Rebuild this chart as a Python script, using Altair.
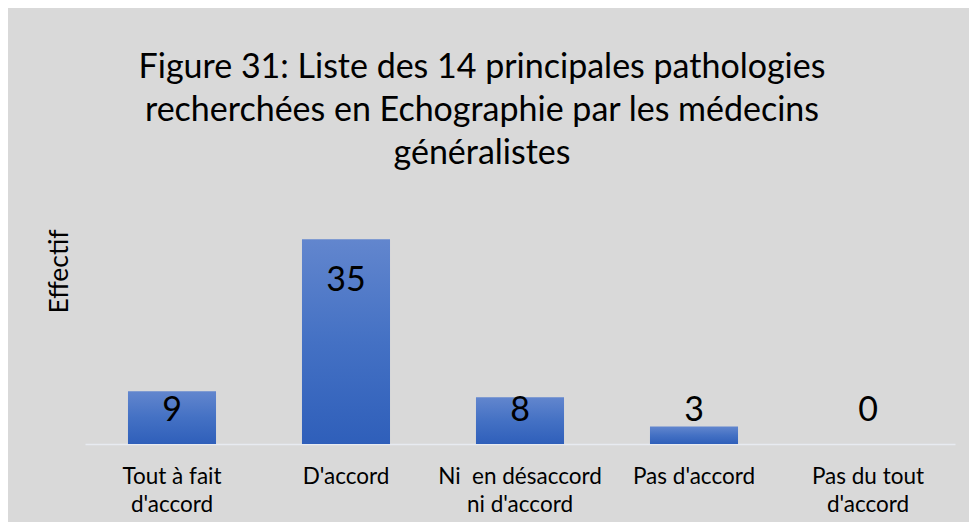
import altair as alt
import pandas as pd

categories = ["Tout à fait|d'accord", "D'accord", "Ni \u00a0en désaccord|ni d'accord",
              "Pas d'accord", "Pas du tout|d'accord"]
values = [9, 35, 8, 3, 0]
title_lines = ["Figure 31: Liste des 14 principales pathologies",
               "recherchées en Echographie par les médecins",
               "généralistes"]
y_title = "Effectif"

df = pd.DataFrame({"cat": categories, "val": values})

gradient = alt.LinearGradient(
    gradient="linear",
    stops=[alt.GradientStop(color="#6286ce", offset=0),
           alt.GradientStop(color="#4471c4", offset=0.5),
           alt.GradientStop(color="#2f5fba", offset=1)],
    x1=0, x2=0, y1=0, y2=1)

x_enc = alt.X("cat:N", sort=categories,
              scale=alt.Scale(paddingInner=0.494, paddingOuter=0.247),
              axis=alt.Axis(title=None, labelAngle=0,
                            labelExpr="split(datum.label, '|')",
                            labelFont="Lato", labelFontSize=22.5,
                            labelLineHeight=28, labelColor="black",
                            labelPadding=21, ticks=False,
                            domainColor="#e8ebf1", domainWidth=1.5))

y_axis = alt.Axis(title=y_title, labels=False, ticks=False, domain=False,
                  grid=False, titleFont="Lato", titleFontSize=26.5,
                  titleFontWeight="normal", titleColor="black",
                  titleAngle=270, titleX=-26, titleY=61,
                  titleAlign="center", titleBaseline="middle")

bars = alt.Chart(df).mark_bar(fill=gradient).encode(
    x=x_enc,
    y=alt.Y("val:Q", scale=alt.Scale(domain=[0, 40]), axis=y_axis),
)

labels = alt.Chart(df).transform_calculate(
    pos="max(datum.val - 7.2, 5.7)"
).mark_text(font="Lato", fontSize=34, baseline="middle", color="black").encode(
    x=x_enc,
    y=alt.Y("pos:Q", axis=y_axis),
    text="val:Q",
)

chart = alt.layer(bars, labels).properties(
    width=870, height=234,
    autosize=alt.AutoSizeParams(type="none"),
    padding={"left": 77, "top": 202, "right": 14, "bottom": 78},
    background="#d9d9d9",
    title=alt.TitleParams(text=title_lines, font="Lato", fontSize=34,
                          fontWeight="normal", color="black", lineHeight=43,
                          anchor="middle", dx=-38, offset=39),
).configure_view(stroke=None)

chart.save("out.html", embed_options={"renderer": "svg", "actions": False})
